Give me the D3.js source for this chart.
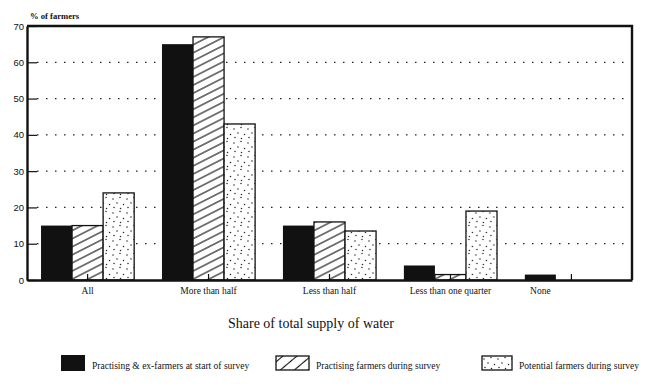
<!DOCTYPE html>
<html>
<head>
<meta charset="utf-8">
<script src="https://cdn.jsdelivr.net/npm/d3@7"></script>
<style>
	body { margin: 0; background: #fff; }
	svg { display: block; }
	.serif { font-family: "Liberation Serif", "Times New Roman", serif; fill: #111; }
	.c-water__axis text { font-family: "Liberation Sans", Arial, sans-serif; font-size: 9.5px; fill: #111; }
</style>
</head>
<body>
<div id="chart"></div>
<script>
var categories = ["All", "More than half", "Less than half", "Less than one quarter", "None"];
var startValues = [15, 65, 15, 4, 1.5];
var practisingValues = [15, 67, 16, 1.5, 0];
var potentialValues = [24, 43, 13.5, 19, 0];
var seriesNames = [
	"Practising & ex-farmers at start of survey",
	"Practising farmers during survey",
	"Potential farmers during survey"
];
var yTicks = [0, 10, 20, 30, 40, 50, 60, 70];
var gridTicks = [10, 20, 30, 40, 50, 60];

var width = 650, height = 387;
var margin = {top: 26, right: 18, bottom: 107, left: 27};
var prefix = "c-water";

var svg = d3.select("#chart")
	.append("svg")
	.attr("width", width)
	.attr("height", height);

//Patterns for the bar fills
var defs = svg.append("defs");

var hatch = defs.append("pattern")
	.attr("id", "hatch")
	.attr("patternUnits", "userSpaceOnUse")
	.attr("width", 8)
	.attr("height", 7.2)
	.attr("patternTransform", "rotate(-27)");
hatch.append("rect").attr("width", 8).attr("height", 7.2).attr("fill", "#fff");
hatch.append("line")
	.attr("x1", 0).attr("x2", 8).attr("y1", 3.6).attr("y2", 3.6)
	.attr("stroke", "#111").attr("stroke-width", 1.1);

var hatchLegend = defs.append("pattern")
	.attr("id", "hatchLegend")
	.attr("patternUnits", "userSpaceOnUse")
	.attr("width", 9)
	.attr("height", 9)
	.attr("patternTransform", "rotate(-40)");
hatchLegend.append("rect").attr("width", 9).attr("height", 9).attr("fill", "#fff");
hatchLegend.append("line")
	.attr("x1", 0).attr("x2", 9).attr("y1", 4.5).attr("y2", 4.5)
	.attr("stroke", "#111").attr("stroke-width", 1.1);

var dots = defs.append("pattern")
	.attr("id", "dots")
	.attr("patternUnits", "userSpaceOnUse")
	.attr("width", 14)
	.attr("height", 14);
dots.append("rect").attr("width", 14).attr("height", 14).attr("fill", "#fff");
[[2, 3], [9, 1.5], [6, 7], [12.5, 8.5], [3, 11.5], [9.5, 12.5]].forEach(function(p){
	dots.append("circle")
		.attr("cx", p[0]).attr("cy", p[1]).attr("r", 0.75)
		.attr("fill", "#222");
});

var fills = ["#111", "url(#hatch)", "url(#dots)"];
var legendFills = ["#111", "url(#hatchLegend)", "url(#dots)"];
var series = [startValues, practisingValues, potentialValues];

//Scales
var xScale = d3.scaleBand()
	.domain(categories)
	.range([margin.left, width - margin.right])
	.paddingInner(0.23)
	.paddingOuter(0.116);

var xInner = d3.scaleBand()
	.domain([0, 1, 2])
	.range([0, xScale.bandwidth()]);

var yScale = d3.scaleLinear()
	.domain([0, 70])
	.range([height - margin.bottom, margin.top]);

//Dotted grid lines
var grid = svg.append("g").attr("class", prefix + "__grid");
grid.selectAll("line")
	.data(gridTicks)
	.enter().append("line")
	.attr("x1", margin.left + 10)
	.attr("x2", width - margin.right)
	.attr("y1", function(d){ return yScale(d); })
	.attr("y2", function(d){ return yScale(d); })
	.attr("stroke", "#222")
	.attr("stroke-width", 1.2)
	.attr("stroke-dasharray", "1.5,7.5");

//Bars
var groups = svg.append("g")
	.attr("class", prefix + "__bars")
	.selectAll("g")
	.data(categories)
	.enter().append("g")
	.attr("transform", function(d){ return "translate(" + xScale(d) + ",0)"; });

groups.selectAll("rect")
	.data(function(d, i){
		return series.map(function(s, j){ return {s: j, val: s[i]}; })
			.filter(function(e){ return e.val > 0; });
	})
	.enter().append("rect")
	.attr("x", function(d){ return xInner(d.s); })
	.attr("y", function(d){ return yScale(d.val); })
	.attr("width", xInner.bandwidth())
	.attr("height", function(d){ return yScale(0) - yScale(d.val); })
	.attr("fill", function(d){ return fills[d.s]; })
	.attr("stroke", "#111")
	.attr("stroke-width", function(d){ return d.s === 0 ? 0 : 1.3; });

//Frame: top and right edges
svg.append("path")
	.attr("d", "M" + margin.left + "," + yScale(70) + "H" + (width - margin.right) + "V" + yScale(0))
	.attr("fill", "none")
	.attr("stroke", "#111")
	.attr("stroke-width", 2.4);

//Axes
var yAxis = d3.axisLeft(yScale)
	.tickValues(yTicks)
	.tickSizeInner(-10)
	.tickSizeOuter(0)
	.tickPadding(3);

svg.append("g")
	.attr("class", prefix + "__axis")
	.attr("transform", "translate(" + margin.left + ",0)")
	.call(yAxis);

var xAxis = d3.axisBottom(xScale)
	.tickSizeInner(-6)
	.tickSizeOuter(0)
	.tickFormat("");

svg.append("g")
	.attr("class", prefix + "__axis")
	.attr("transform", "translate(0," + yScale(0) + ")")
	.call(xAxis);

svg.selectAll("." + prefix + "__axis .domain")
	.attr("stroke", "#111")
	.attr("stroke-width", 2.4);
svg.selectAll("." + prefix + "__axis .tick line")
	.attr("stroke", "#111")
	.attr("stroke-width", 1.2);

//Category labels, centred under the drawn bars
svg.append("g")
	.selectAll("text")
	.data(categories)
	.enter().append("text")
	.attr("class", "serif")
	.attr("font-size", 9.5)
	.attr("text-anchor", "middle")
	.attr("x", function(d, i){
		var drawn = series.map(function(s, j){ return s[i] > 0 ? j : -1; })
			.filter(function(j){ return j >= 0; });
		var x0 = xInner(drawn[0]), x1 = xInner(drawn[drawn.length - 1]) + xInner.bandwidth();
		return xScale(d) + (x0 + x1) / 2;
	})
	.attr("y", yScale(0) + 14)
	.text(function(d){ return d; });

//Y axis title
svg.append("text")
	.attr("class", "serif")
	.attr("font-size", 8.6)
	.attr("font-weight", "bold")
	.attr("x", 30)
	.attr("y", 19)
	.text("% of farmers");

//X axis title
svg.append("text")
	.attr("class", "serif")
	.attr("font-size", 14)
	.attr("text-anchor", "middle")
	.attr("x", 311)
	.attr("y", 328)
	.text("Share of total supply of water");

//Legend
var legendX = [61, 276, 482];
var legendW = [24, 33, 30];
var legend = svg.append("g")
	.attr("class", prefix + "__legend")
	.selectAll("g")
	.data(seriesNames)
	.enter().append("g")
	.attr("transform", function(d, i){ return "translate(" + legendX[i] + ",356)"; });

legend.append("rect")
	.attr("width", function(d, i){ return legendW[i]; })
	.attr("height", function(d, i){ return i === 0 ? 16 : 14; })
	.attr("y", function(d, i){ return i === 0 ? -1 : 0; })
	.attr("fill", function(d, i){ return legendFills[i]; })
	.attr("stroke", "#111")
	.attr("stroke-width", function(d, i){ return i === 0 ? 0 : 1.3; });

legend.append("text")
	.attr("class", "serif")
	.attr("font-size", 9.5)
	.attr("x", function(d, i){ return legendW[i] + 7; })
	.attr("y", 13)
	.text(function(d){ return d; });
</script>
</body>
</html>
